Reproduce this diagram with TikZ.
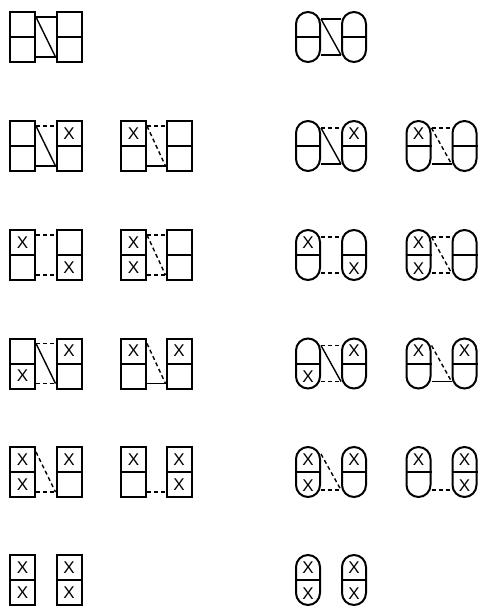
\documentclass[tikz,border=0pt]{standalone}
\usepackage{fontspec}
\setmainfont{Liberation Sans}
\newcommand\rectbox[5]{%
 \node[rcell] (#1t) at ({#2+12.5},{#3+12.5}) {#4};
 \node[rcell] (#1b) at ({#2+12.5},{#3+37.5}) {#5};}
\newcommand\pillbox[5]{%
 \node[pill] (#1) at ({#2+12},{#3+25}) {};
 \draw[boxline] (#1.west) -- (#1.east);
 \node[xlbl] (#1t) at ([yshift=-13.5pt]#1.north) {#4};
 \node[xlbl] (#1b) at ([yshift=12.5pt]#1.south) {#5};}
\newcommand\rtop[3]{\draw[#1] ([yshift=-6pt]#2t.north east) -- ([yshift=-6pt]#3t.north west);}
\newcommand\rdiag[3]{\draw[#1] ([yshift=-6pt]#2t.north east) -- ([yshift=6pt]#3b.south west);}
\newcommand\rbot[3]{\draw[#1] ([yshift=6pt]#2b.south east) -- ([yshift=6pt]#3b.south west);}
\newcommand\ptop[3]{\draw[#1] ([yshift=-8pt]#2.north east) -- ([yshift=-8pt]#3.north west);}
\newcommand\pdiag[3]{\draw[#1] ([yshift=-8pt]#2.north east) -- ([yshift=8pt]#3.south west);}
\newcommand\pbot[3]{\draw[#1] ([yshift=8pt]#2.south east) -- ([yshift=8pt]#3.south west);}
\begin{document}
\begin{tikzpicture}[x=1pt,y=-1pt,
  boxline/.style={line width=2pt},
  rcell/.style={draw, boxline, minimum width=25pt, minimum height=25pt, inner sep=0pt, font=\fontsize{17}{17}\selectfont},
  pill/.style={draw, boxline, rounded corners=12pt, minimum width=24pt, minimum height=50pt, inner sep=0pt},
  xlbl/.style={inner sep=0pt, font=\fontsize{17}{17}\selectfont},
  sol/.style={line width=1.4pt},
  dsh/.style={line width=1.4pt, dash pattern=on 4pt off 3pt},
]
\useasboundingbox (0,0) rectangle (479,606);
% ---------- rectangles, left half ----------
% row 1
\rectbox{r1a}{10}{12}{}{}
\rectbox{r1b}{56.5}{12}{}{}
\rtop{sol}{r1a}{r1b} \rdiag{sol}{r1a}{r1b} \rbot{sol}{r1a}{r1b}
% row 2
\rectbox{r2a}{10}{121}{}{}
\rectbox{r2b}{56.5}{121}{X}{}
\rtop{dsh}{r2a}{r2b} \rdiag{sol}{r2a}{r2b} \rbot{sol}{r2a}{r2b}
\rectbox{r2c}{121}{121}{X}{}
\rectbox{r2d}{166.5}{121}{}{}
\rtop{dsh}{r2c}{r2d} \rdiag{dsh}{r2c}{r2d} \rbot{sol}{r2c}{r2d}
% row 3
\rectbox{r3a}{10}{230}{X}{}
\rectbox{r3b}{56.5}{230}{}{X}
\rtop{dsh}{r3a}{r3b} \rbot{dsh}{r3a}{r3b}
\rectbox{r3c}{121}{230}{X}{X}
\rectbox{r3d}{166.5}{230}{}{}
\rtop{dsh}{r3c}{r3d} \rdiag{dsh}{r3c}{r3d} \rbot{dsh}{r3c}{r3d}
% row 4
\rectbox{r4a}{10}{338.5}{}{X}
\rectbox{r4b}{56.5}{338.5}{X}{}
\rtop{dsh}{r4a}{r4b} \rdiag{sol}{r4a}{r4b} \rbot{dsh}{r4a}{r4b}
\rectbox{r4c}{121}{338.5}{X}{}
\rectbox{r4d}{166.5}{338.5}{X}{}
\rdiag{dsh}{r4c}{r4d} \rbot{sol}{r4c}{r4d}
% row 5
\rectbox{r5a}{10}{447}{X}{X}
\rectbox{r5b}{56.5}{447}{X}{}
\rdiag{dsh}{r5a}{r5b} \rbot{dsh}{r5a}{r5b}
\rectbox{r5c}{121}{447}{X}{}
\rectbox{r5d}{166.5}{447}{X}{X}
\rbot{dsh}{r5c}{r5d}
% row 6
\rectbox{r6a}{10}{555}{X}{X}
\rectbox{r6b}{56.5}{555}{X}{X}
% ---------- pills, right half ----------
% row 1
\pillbox{p1a}{296}{12}{}{}
\pillbox{p1b}{342}{12}{}{}
\ptop{sol}{p1a}{p1b} \pdiag{sol}{p1a}{p1b} \pbot{sol}{p1a}{p1b}
% row 2
\pillbox{p2a}{296}{121}{}{}
\pillbox{p2b}{342}{121}{X}{}
\ptop{dsh}{p2a}{p2b} \pdiag{sol}{p2a}{p2b} \pbot{sol}{p2a}{p2b}
\pillbox{p2c}{406.5}{121}{X}{}
\pillbox{p2d}{452.5}{121}{}{}
\ptop{dsh}{p2c}{p2d} \pdiag{dsh}{p2c}{p2d} \pbot{sol}{p2c}{p2d}
% row 3
\pillbox{p3a}{296}{230}{X}{}
\pillbox{p3b}{342}{230}{}{X}
\ptop{dsh}{p3a}{p3b} \pbot{dsh}{p3a}{p3b}
\pillbox{p3c}{406.5}{230}{X}{X}
\pillbox{p3d}{452.5}{230}{}{}
\ptop{dsh}{p3c}{p3d} \pdiag{dsh}{p3c}{p3d} \pbot{dsh}{p3c}{p3d}
% row 4
\pillbox{p4a}{296}{338.5}{}{X}
\pillbox{p4b}{342}{338.5}{X}{}
\ptop{dsh}{p4a}{p4b} \pdiag{sol}{p4a}{p4b} \pbot{dsh}{p4a}{p4b}
\pillbox{p4c}{406.5}{338.5}{X}{}
\pillbox{p4d}{452.5}{338.5}{X}{}
\pdiag{dsh}{p4c}{p4d} \pbot{sol}{p4c}{p4d}
% row 5
\pillbox{p5a}{296}{447}{X}{X}
\pillbox{p5b}{342}{447}{X}{}
\pdiag{dsh}{p5a}{p5b} \pbot{dsh}{p5a}{p5b}
\pillbox{p5c}{406.5}{447}{X}{}
\pillbox{p5d}{452.5}{447}{X}{X}
\pbot{dsh}{p5c}{p5d}
% row 6
\pillbox{p6a}{296}{555}{X}{X}
\pillbox{p6b}{342}{555}{X}{X}
\end{tikzpicture}
\end{document}
